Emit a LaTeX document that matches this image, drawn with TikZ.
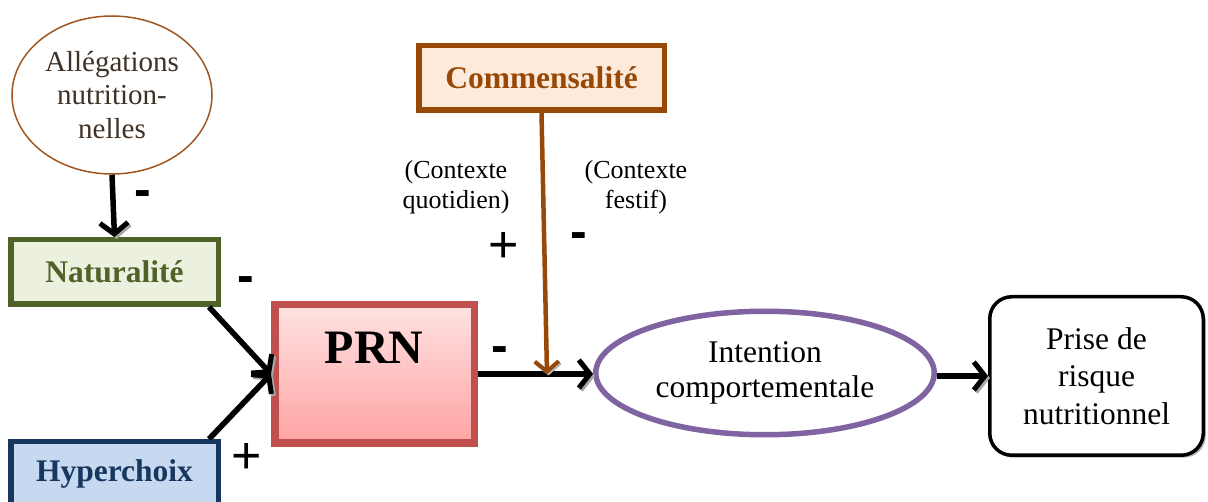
\documentclass[tikz,border=0pt]{standalone}
\usepackage{fontspec}
\setmainfont{Liberation Serif}
\newfontfamily\signfont{Liberation Sans}
\usetikzlibrary{shapes.geometric,arrows.meta,shadows,calc}
\definecolor{allbrown}{HTML}{A0561E}
\definecolor{alltext}{HTML}{3F3123}
\definecolor{natgreen}{HTML}{4F6228}
\definecolor{natfill}{HTML}{EBF1DE}
\definecolor{hypblue}{HTML}{17375E}
\definecolor{hypfill}{HTML}{C6D9F1}
\definecolor{prnred}{HTML}{C0504D}
\definecolor{prntop}{HTML}{FFE2E2}
\definecolor{prnbot}{HTML}{FFA3A3}
\definecolor{combrown}{HTML}{984807}
\definecolor{comfill}{HTML}{FDEADA}
\definecolor{intpurple}{HTML}{8064A2}
\tikzset{
  boxshadow/.style={drop shadow={shadow xshift=2.5pt,shadow yshift=-2.5pt,opacity=0.3,fill=black}},
  bigarrow/.style={line width=5.5pt,-{Straight Barb[length=11pt,width=28pt,line width=5pt]},
    preaction={draw=black!35,transform canvas={shift={(2pt,-2pt)}}}},
  plussign/.style={font=\signfont\fontsize{52}{56}\selectfont,inner sep=0pt},
  minussign/.style={font=\signfont\bfseries\fontsize{50}{54}\selectfont,inner sep=0pt},
  ctx/.style={align=center,font=\fontsize{26}{30}\selectfont,inner sep=0pt},
  labelbox/.style={line width=5.5pt,minimum width=207.5pt,minimum height=64.5pt,
    font=\bfseries\fontsize{31.5}{35}\selectfont,boxshadow},
}
\begin{document}
\begin{tikzpicture}[x=1pt,y=-1pt]
\useasboundingbox (0,0) rectangle (1208,502);
% nodes
\node[ellipse,draw=allbrown,line width=1.5pt,minimum width=200pt,minimum height=158pt,inner sep=0pt,
  align=center,text=alltext,font=\fontsize{29}{33.5}\selectfont] (all) at (112,95)
  {Allégations\\nutrition-\\nelles};
\node[labelbox,draw=natgreen,fill=natfill,text=natgreen] (nat) at (114.5,272) {Naturalité};
\node[labelbox,draw=hypblue,fill=hypfill,text=hypblue] (hyp) at (114.5,474) {Hyperchoix};
\node[draw=prnred,top color=prntop,bottom color=prnbot,line width=7.5pt,minimum width=199.5pt,minimum height=138.5pt,
  boxshadow] (prn) at (374.5,374) {};
\node[font=\bfseries\fontsize{48}{52}\selectfont,inner sep=0pt] (prnt) at (374,347.5) {PRN};
\node[labelbox,draw=combrown,fill=comfill,text=combrown,minimum width=245.5pt] (com) at (541.5,78) {Commensalité};
\node[ellipse,draw=intpurple,line width=5.5pt,fill=white,minimum width=338.5pt,minimum height=123.5pt,inner sep=0pt,
  align=center,font=\fontsize{31.5}{35}\selectfont] (int) at (765,373) {Intention\\comportementale};
\node[draw=black,line width=3.5pt,rounded corners=22pt,minimum width=213.5pt,minimum height=158.5pt,
  align=center,font=\fontsize{31.5}{37.5}\selectfont,fill=white,boxshadow] (prise) at (1096.5,376) {Prise de\\risque\\nutritionnel};
% labels
\node[ctx] (cq) at (456,187) {(Contexte\\quotidien)};
\node[ctx] (cf) at (636,187) {(Contexte\\festif)};
\node[plussign] (p1) at (504,247) {+};
\node[minussign] (m1) at (579,241) {-};
\node[minussign] (m2) at (143,199) {-};
\node[minussign] (m3) at (246,285) {-};
\node[plussign] (p2) at (247,458) {+};
\node[minussign] (m4) at (500,355) {-};
% connectors
\coordinate (j) at (547,374);
\draw[bigarrow] (all.south) -- (nat.north);
\draw[bigarrow] ($(nat.south east)+(-12,0)$) -- (prn.west);
\draw[bigarrow] ($(hyp.north east)+(-12,0)$) -- (prn.west);
\draw[bigarrow] (prn.east) -- (prn.east -| int.west);
\draw[bigarrow] (int.east |- prise.west) -- (prise.west);
\draw[line width=4.5pt,draw=combrown,-{Straight Barb[length=10pt,width=24pt,line width=4pt]},
  preaction={draw=black!30,transform canvas={shift={(1.5pt,-1.5pt)}}}] (com.south) -- (j);
\end{tikzpicture}
\end{document}
